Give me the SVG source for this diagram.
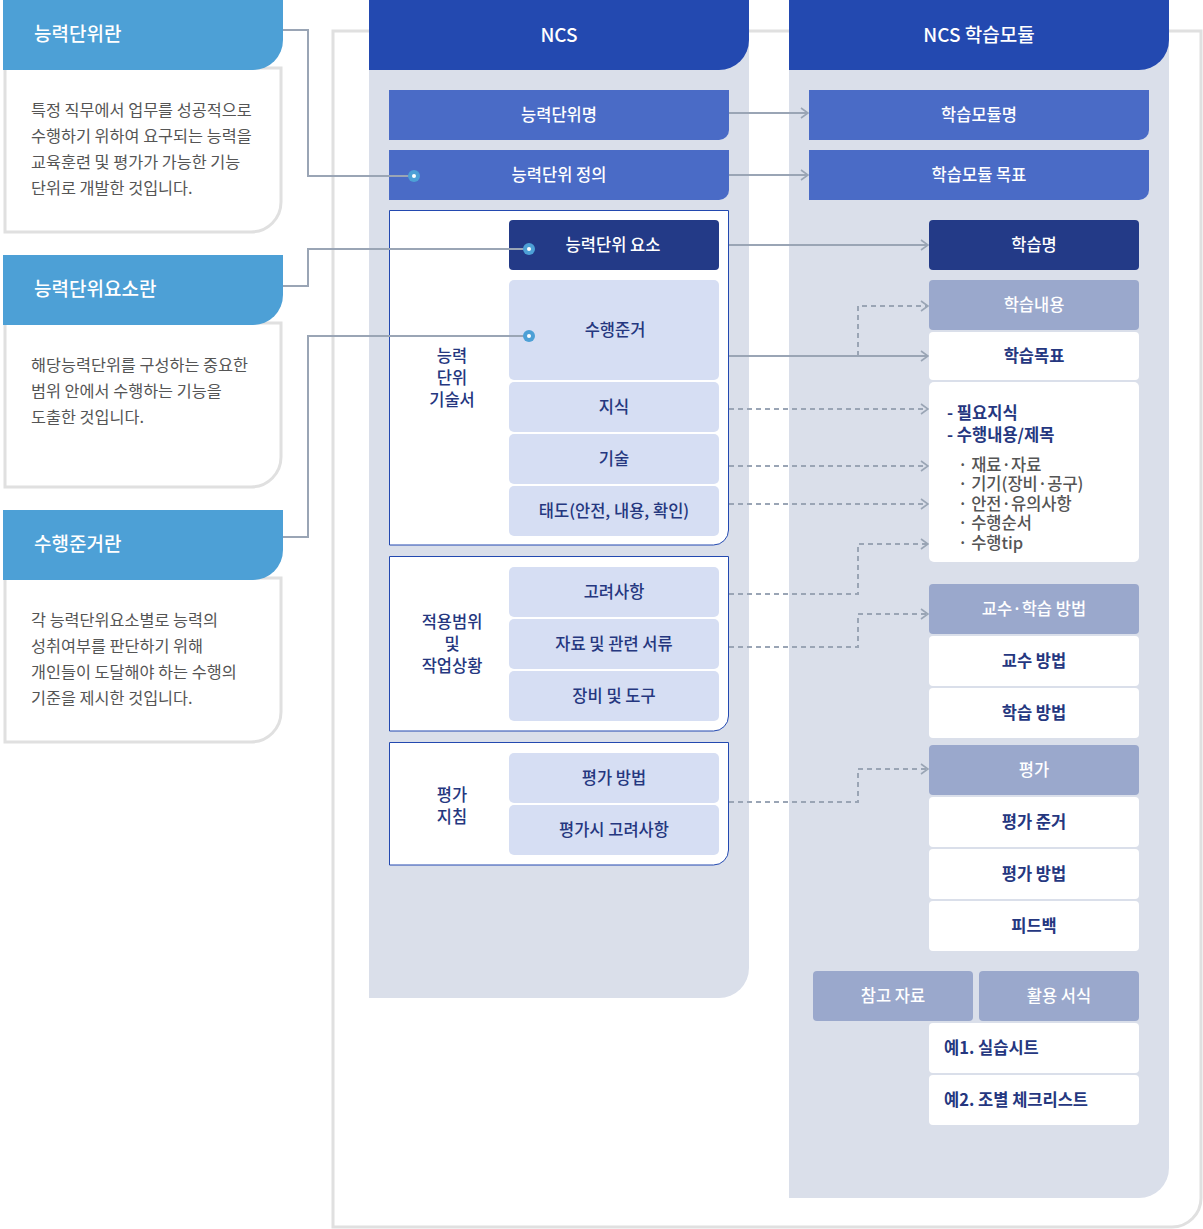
<svg xmlns="http://www.w3.org/2000/svg" width="1203" height="1229" viewBox="0 0 1203 1229">
<style>
text{font-family:"Noto Sans CJK KR","Noto Sans",sans-serif;font-size:16.5px;font-weight:500}
.w{fill:#fff}.c{text-anchor:middle}.n{fill:#25377f}.b{font-weight:bold}
.h{font-size:19px}
.g{fill:#555;font-size:16.3px;font-weight:400}
.lt{fill:#d6def3}.dk{fill:#233a87}.gr{fill:#9aa8cc}.md{fill:#4a6bc6}.wb{fill:#fff}
.sl{stroke:#9aa5b5;stroke-width:2;fill:none}
.dl{stroke:#9aa5b5;stroke-width:2;fill:none;stroke-dasharray:5 4}
</style>
<defs>
<marker id="a" markerWidth="10" markerHeight="12" refX="9" refY="6" orient="auto" markerUnits="userSpaceOnUse"><path d="M2,1 L9,6 L2,11" fill="none" stroke="#9aa5b5" stroke-width="1.6"/></marker>
</defs>
<rect width="1203" height="1229" fill="#fff"/>
<path d="M333,31 H1201 V1198 a29,29 0 0 1 -29,29 H333 Z" fill="none" stroke="#e0e0e0" stroke-width="3"/>
<g id="ncs">
<path d="M369,0 H749 V968 a30,30 0 0 1 -30,30 H369 Z" fill="#dadfea"/>
<path d="M369,0 H749 V40 a30,30 0 0 1 -30,30 H369 Z" fill="#2349b0"/>
<text x="559" y="42" class="w c h">NCS</text>
</g>
<g id="module">
<path d="M789,0 H1169 V1168 a30,30 0 0 1 -30,30 H789 Z" fill="#dadfea"/>
<path d="M789,0 H1169 V40 a30,30 0 0 1 -30,30 H789 Z" fill="#2349b0"/>
<text x="979" y="42" class="w c h">NCS 학습모듈</text>
</g>
<g id="card1">
<path d="M5,68 H281 V202 a30,30 0 0 1 -30,30 H5 Z" fill="#fff" stroke="#e0e0e0" stroke-width="3"/>
<path d="M3,0 H283 V40 a30,30 0 0 1 -30,30 H3 Z" fill="#4da0d6"/>
<text x="34" y="41" class="w h">능력단위란</text>
<text class="g"><tspan x="31" y="116">특정 직무에서 업무를 성공적으로</tspan><tspan x="31" y="142">수행하기 위하여 요구되는 능력을</tspan><tspan x="31" y="168">교육훈련 및 평가가 가능한 기능</tspan><tspan x="31" y="194">단위로 개발한 것입니다.</tspan></text>
</g>
<g id="card2">
<path d="M5,323 H281 V457 a30,30 0 0 1 -30,30 H5 Z" fill="#fff" stroke="#e0e0e0" stroke-width="3"/>
<path d="M3,255 H283 V295 a30,30 0 0 1 -30,30 H3 Z" fill="#4da0d6"/>
<text x="34" y="296" class="w h">능력단위요소란</text>
<text class="g"><tspan x="31" y="371">해당능력단위를 구성하는 중요한</tspan><tspan x="31" y="397">범위 안에서 수행하는 기능을</tspan><tspan x="31" y="423">도출한 것입니다.</tspan></text>
</g>
<g id="card3">
<path d="M5,578 H281 V712 a30,30 0 0 1 -30,30 H5 Z" fill="#fff" stroke="#e0e0e0" stroke-width="3"/>
<path d="M3,510 H283 V550 a30,30 0 0 1 -30,30 H3 Z" fill="#4da0d6"/>
<text x="34" y="551" class="w h">수행준거란</text>
<text class="g"><tspan x="31" y="626">각 능력단위요소별로 능력의</tspan><tspan x="31" y="652">성취여부를 판단하기 위해</tspan><tspan x="31" y="678">개인들이 도달해야 하는 수행의</tspan><tspan x="31" y="704">기준을 제시한 것입니다.</tspan></text>
</g>
<g id="ncs-items">
<path d="M389,90 H729 V130 a10,10 0 0 1 -10,10 H389 Z" class="md"/>
<text x="559" y="121" class="w c">능력단위명</text>
<path d="M389,150 H729 V190 a10,10 0 0 1 -10,10 H389 Z" class="md"/>
<text x="559" y="181" class="w c">능력단위 정의</text>
<path d="M389.5,210.5 H728.5 V530 a15,15 0 0 1 -15,15 H389.5 Z" fill="#fff" stroke="#2349b0"/>
<text class="n c"><tspan x="452" y="362">능력</tspan><tspan x="452" y="384">단위</tspan><tspan x="452" y="406">기술서</tspan></text>
<rect x="509" y="220" width="210" height="50" rx="4" class="dk"/>
<text x="613" y="251" class="w c">능력단위 요소</text>
<rect x="509" y="280" width="210" height="100" rx="5" class="lt"/>
<text x="615" y="336" class="n c">수행준거</text>
<rect x="509" y="382" width="210" height="50" rx="5" class="lt"/>
<text x="614" y="413" class="n c">지식</text>
<rect x="509" y="434" width="210" height="50" rx="5" class="lt"/>
<text x="614" y="465" class="n c">기술</text>
<rect x="509" y="486" width="210" height="50" rx="5" class="lt"/>
<text x="614" y="517" class="n c">태도(안전, 내용, 확인)</text>
<path d="M389.5,556.5 H728.5 V716 a15,15 0 0 1 -15,15 H389.5 Z" fill="#fff" stroke="#2349b0"/>
<text class="n c"><tspan x="452" y="628">적용범위</tspan><tspan x="452" y="650">및</tspan><tspan x="452" y="672">작업상황</tspan></text>
<rect x="509" y="567" width="210" height="50" rx="5" class="lt"/>
<text x="614" y="598" class="n c">고려사항</text>
<rect x="509" y="619" width="210" height="50" rx="5" class="lt"/>
<text x="614" y="650" class="n c">자료 및 관련 서류</text>
<rect x="509" y="671" width="210" height="50" rx="5" class="lt"/>
<text x="614" y="702" class="n c">장비 및 도구</text>
<path d="M389.5,742.5 H728.5 V850 a15,15 0 0 1 -15,15 H389.5 Z" fill="#fff" stroke="#2349b0"/>
<text class="n c"><tspan x="452" y="801">평가</tspan><tspan x="452" y="823">지침</tspan></text>
<rect x="509" y="753" width="210" height="50" rx="5" class="lt"/>
<text x="614" y="784" class="n c">평가 방법</text>
<rect x="509" y="805" width="210" height="50" rx="5" class="lt"/>
<text x="614" y="836" class="n c">평가시 고려사항</text>
</g>
<g id="module-items">
<path d="M809,90 H1149 V130 a10,10 0 0 1 -10,10 H809 Z" class="md"/>
<text x="979" y="121" class="w c">학습모듈명</text>
<path d="M809,150 H1149 V190 a10,10 0 0 1 -10,10 H809 Z" class="md"/>
<text x="979" y="181" class="w c">학습모듈 목표</text>
<rect x="929" y="220" width="210" height="50" rx="4" class="dk"/>
<text x="1034" y="251" class="w c">학습명</text>
<rect x="929" y="280" width="210" height="50" rx="4" class="gr"/>
<text x="1034" y="311" class="w c">학습내용</text>
<rect x="929" y="332" width="210" height="48" rx="4" class="wb"/>
<text x="1034" y="362" class="n c b">학습목표</text>
<rect x="929" y="382" width="210" height="180" rx="5" class="wb"/>
<text class="n b"><tspan x="947" y="419">-  필요지식</tspan><tspan x="947" y="441">-  수행내용/제목</tspan></text>
<text fill="#555" font-size="14" font-weight="400"><tspan x="958" y="471">· 재료·자료</tspan><tspan x="958" y="490">· 기기(장비·공구)</tspan><tspan x="958" y="510">· 안전·유의사항</tspan><tspan x="958" y="529">· 수행순서</tspan><tspan x="958" y="549">· 수행tip</tspan></text>
<rect x="929" y="584" width="210" height="50" rx="4" class="gr"/>
<text x="1034" y="615" class="w c">교수·학습 방법</text>
<rect x="929" y="636" width="210" height="50" rx="4" class="wb"/>
<text x="1034" y="667" class="n c b">교수 방법</text>
<rect x="929" y="688" width="210" height="50" rx="4" class="wb"/>
<text x="1034" y="719" class="n c b">학습 방법</text>
<rect x="929" y="745" width="210" height="50" rx="4" class="gr"/>
<text x="1034" y="776" class="w c">평가</text>
<rect x="929" y="797" width="210" height="50" rx="4" class="wb"/>
<text x="1034" y="828" class="n c b">평가 준거</text>
<rect x="929" y="849" width="210" height="50" rx="4" class="wb"/>
<text x="1034" y="880" class="n c b">평가 방법</text>
<rect x="929" y="901" width="210" height="50" rx="4" class="wb"/>
<text x="1034" y="932" class="n c b">피드백</text>
<rect x="813" y="971" width="160" height="50" rx="4" class="gr"/>
<text x="893" y="1002" class="w c">참고 자료</text>
<rect x="979" y="971" width="160" height="50" rx="4" class="gr"/>
<text x="1059" y="1002" class="w c">활용 서식</text>
<rect x="929" y="1023" width="210" height="50" rx="4" class="wb"/>
<text x="944" y="1054" class="n b">예1. 실습시트</text>
<rect x="929" y="1075" width="210" height="50" rx="4" class="wb"/>
<text x="944" y="1106" class="n b">예2. 조별 체크리스트</text>
</g>
<g id="connectors">
<path class="sl" d="M283,30 H308 V176 H414"/>
<path class="sl" d="M283,286 H308 V249 H529"/>
<path class="sl" d="M283,537 H308 V336 H529"/>
<circle cx="414" cy="176" r="6" fill="#4da0d6"/><circle cx="414" cy="176" r="2" fill="#fff"/>
<circle cx="529" cy="249" r="6" fill="#4da0d6"/><circle cx="529" cy="249" r="2" fill="#fff"/>
<circle cx="529" cy="336" r="6" fill="#4da0d6"/><circle cx="529" cy="336" r="2" fill="#fff"/>
<path class="sl" marker-end="url(#a)" d="M729,113 H808"/>
<path class="sl" marker-end="url(#a)" d="M729,175 H808"/>
<path class="sl" marker-end="url(#a)" d="M729,245 H928"/>
<path class="sl" marker-end="url(#a)" d="M729,356 H928"/>
<path class="dl" marker-end="url(#a)" d="M858,356 V306 H928"/>
<path class="dl" marker-end="url(#a)" d="M729,409 H928"/>
<path class="dl" marker-end="url(#a)" d="M729,466 H928"/>
<path class="dl" marker-end="url(#a)" d="M729,504 H928"/>
<path class="dl" marker-end="url(#a)" d="M729,594 H858 V544 H928"/>
<path class="dl" marker-end="url(#a)" d="M729,647 H858 V614 H928"/>
<path class="dl" marker-end="url(#a)" d="M729,802 H858 V769 H928"/>
</g>
</svg>
